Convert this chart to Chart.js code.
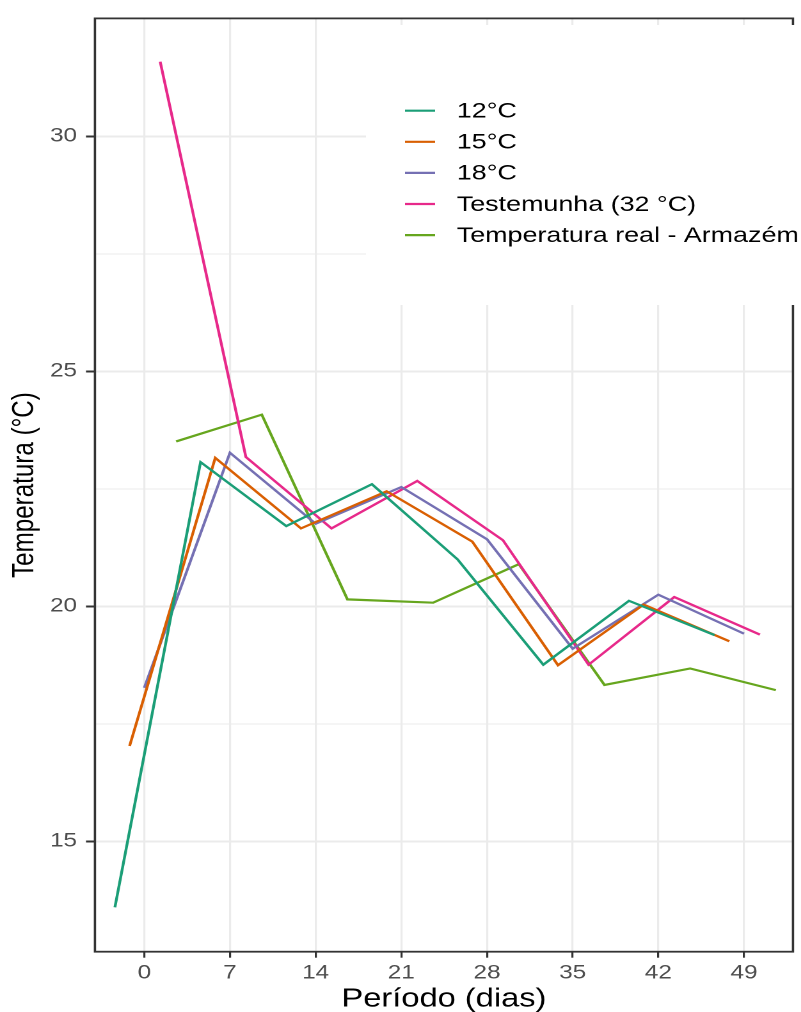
<!DOCTYPE html>
<html>
<head>
<meta charset="utf-8">
<script src="https://cdn.jsdelivr.net/npm/chart.js@4.4.1/dist/chart.umd.min.js"></script>
<style>
  html, body { margin: 0; padding: 0; background: #fff; overflow: hidden; }
  /* the plot is laid out narrow and stretched sideways to fill the page */
  #wrap { width: 626px; height: 1012px; transform: scaleX(1.2796); transform-origin: 0 0; }
</style>
</head>
<body>
<div id="wrap"><canvas id="chart" width="626" height="1012"></canvas></div>
<script>
const days = [0, 7, 14, 21, 28, 35, 42, 49];
const labels = ['12°C', '15°C', '18°C', 'Testemunha (32 °C)', 'Temperatura real - Armazém'];
const temp12 = [13.6, 23.07, 21.71, 22.6, 21.0, 18.76, 20.12, 19.39];
const temp15 = [17.03, 23.16, 21.66, 22.45, 21.38, 18.75, 20.04, 19.26];
const temp18 = [18.27, 23.27, 21.76, 22.54, 21.43, 19.1, 20.25, 19.42];
const testemunha = [31.59, 23.18, 21.66, 22.67, 21.41, 18.76, 20.2, 19.4];
const armazem = [23.51, 24.08, 20.15, 20.08, 20.9, 18.33, 18.68, 18.22];
const yMajor = [15, 20, 25, 30];

const palette = ['#1B9E77', '#D95F02', '#7570B3', '#E7298A', '#66A61E'];
const dodge = [-2.4, -1.2, 0, 1.3, 2.6];
const FONT = "'Liberation Sans', Arial, sans-serif";

const series = [temp12, temp15, temp18, testemunha, armazem];
const datasets = series.map((vals, i) => ({
  label: labels[i],
  data: vals.map((v, k) => ({ x: days[k] + dodge[i], y: v })),
  borderColor: palette[i],
  borderWidth: 2.2,
  pointRadius: 0,
  tension: 0,
  fill: false
}));

// minor grid halfway between the labelled y values
const yAll = [];
yMajor.forEach((v, i) => {
  if (i > 0) yAll.push((yMajor[i - 1] + v) / 2);
  yAll.push(v);
});
const isMajor = v => yMajor.includes(v);

// panel frame plus the legend block sitting over the top right corner
const panelLegend = {
  id: 'panelLegend',
  afterDatasetsDraw(chart) {
    const { ctx, chartArea: a } = chart;
    ctx.save();
    ctx.strokeStyle = '#333333';
    ctx.lineWidth = 1.8;
    ctx.strokeRect(a.left, a.top, a.right - a.left, a.bottom - a.top);
    ctx.restore();
  },
  afterDraw(chart) {
    const { ctx } = chart;
    const box = { left: 286, top: 25, bottom: 305 };
    ctx.save();
    ctx.fillStyle = '#ffffff';
    ctx.fillRect(box.left, box.top, chart.width - box.left, box.bottom - box.top);
    ctx.font = '21px ' + FONT;
    ctx.textBaseline = 'middle';
    ctx.textAlign = 'left';
    chart.data.datasets.forEach((ds, i) => {
      const y = 110.7 + i * 31.1;
      ctx.strokeStyle = ds.borderColor;
      ctx.lineWidth = 2.2;
      ctx.beginPath();
      ctx.moveTo(316.5, y);
      ctx.lineTo(340, y);
      ctx.stroke();
      ctx.fillStyle = '#000000';
      ctx.fillText(ds.label, 357, y + 1);
    });
    ctx.restore();
  }
};

new Chart(document.getElementById('chart'), {
  type: 'line',
  data: { datasets },
  plugins: [panelLegend],
  options: {
    responsive: false,
    devicePixelRatio: 2,
    animation: false,
    layout: { padding: { top: 14, right: 6.3, left: 0, bottom: 0 } },
    plugins: { legend: { display: false }, tooltip: { enabled: false } },
    scales: {
      x: {
        type: 'linear',
        min: -4.03,
        max: 53.0,
        afterBuildTicks: s => { s.ticks = days.map(v => ({ value: v })); },
        afterFit: s => { s.height = 60.3; },
        border: { display: false },
        grid: { color: '#EBEBEB', lineWidth: 1.6, tickColor: '#333333', tickLength: 6, tickWidth: 1.6 },
        ticks: { color: '#4D4D4D', font: { family: FONT, size: 19 }, padding: 4, maxRotation: 0 },
        title: {
          display: true, text: 'Período (dias)', color: '#000000',
          font: { family: FONT, size: 25.5, lineHeight: 1.0 }, padding: { top: 0, bottom: 0 }
        }
      },
      y: {
        type: 'linear',
        min: 12.655,
        max: 32.51,
        afterBuildTicks: s => { s.ticks = yAll.map(v => ({ value: v })); },
        afterFit: s => { s.width = 74.2; },
        border: { display: false },
        grid: {
          color: '#EBEBEB',
          lineWidth: c => isMajor(c.tick.value) ? 2 : 1,
          tickColor: c => isMajor(c.tick.value) ? '#333333' : 'rgba(0,0,0,0)',
          tickLength: 7,
          tickWidth: 2
        },
        ticks: {
          color: '#4D4D4D', font: { family: FONT, size: 19 }, padding: 7,
          callback: v => isMajor(v) ? String(v) : ''
        },
        title: {
          display: true, text: 'Temperatura (°C)', color: '#000000',
          font: { family: FONT, size: 24.2, lineHeight: 1.2 }, padding: { top: 5, bottom: 0 }
        }
      }
    }
  }
});
</script>
</body>
</html>
